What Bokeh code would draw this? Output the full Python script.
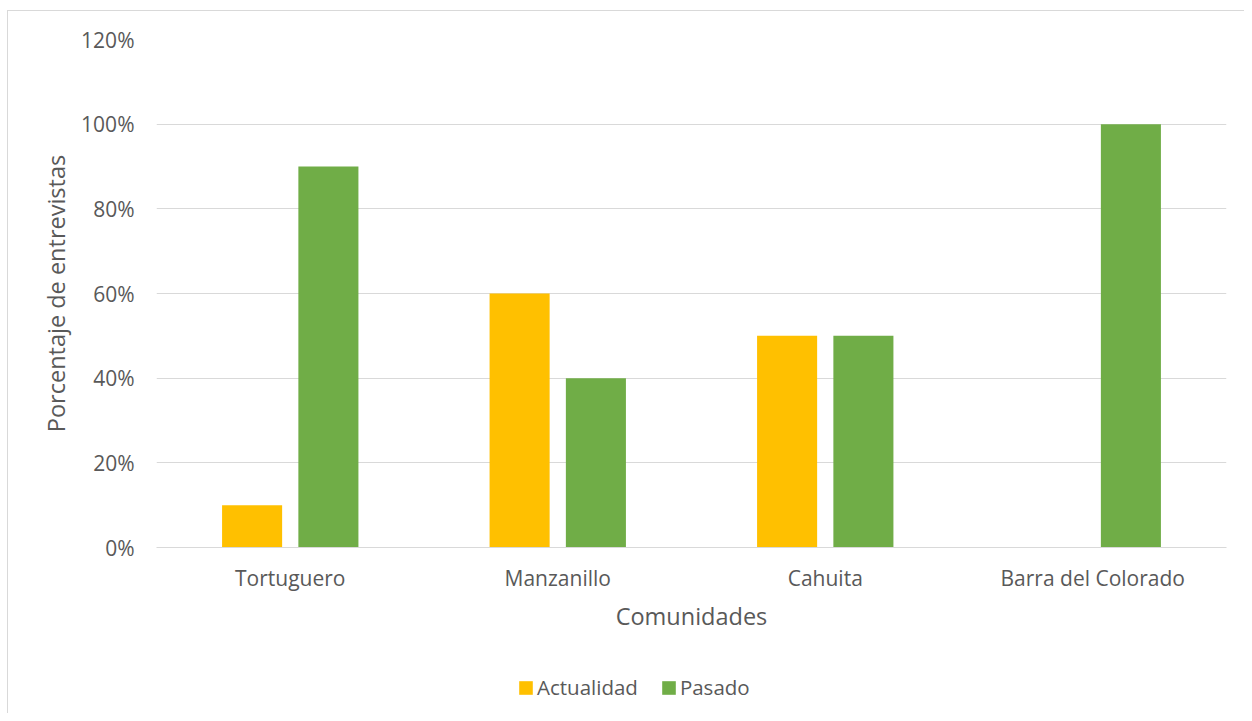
from bokeh.plotting import figure
from bokeh.layouts import column
from bokeh.models import ColumnDataSource, FactorRange, Range1d, Legend, LegendItem, NumeralTickFormatter, FixedTicker
from bokeh.transform import dodge
from bokeh.embed import file_html
from bokeh.resources import INLINE

communities = ["Tortuguero", "Manzanillo", "Cahuita", "Barra del Colorado"]
actualidad = [0.10, 0.60, 0.50, 0.0]
pasado = [0.90, 0.40, 0.50, 1.00]
y_ticks = [0, 0.2, 0.4, 0.6, 0.8, 1.0, 1.2]
series_names = ["Actualidad", "Pasado"]
series_fields = ["act", "pas"]
series_colors = ["#FFC000", "#70AD47"]
offsets = [-0.1426, 0.1426]

FONT = "Open Sans"
TXT = "#595959"
GRID = "#D9D9D9"

src = ColumnDataSource(dict(cat=communities, act=actualidad, pas=pasado))
xr = FactorRange(factors=communities, range_padding=0)

p = figure(x_range=xr, y_range=Range1d(0, 1.2),
           width=1244, height=650, output_backend="svg", toolbar_location=None,
           min_border_left=156, min_border_right=18, min_border_top=39, min_border_bottom=103)
p.outline_line_color = None
p.background_fill_color = "white"
p.border_fill_color = None

for f, c, o in zip(series_fields, series_colors, offsets):
    p.vbar(x=dodge("cat", o, range=xr), top=f, width=0.2245, source=src,
           fill_color=c, line_color=None)

p.xgrid.grid_line_color = None
p.ygrid.grid_line_color = GRID
p.ygrid.grid_line_width = 1
p.yaxis.ticker = FixedTicker(ticks=y_ticks)
p.yaxis.formatter = NumeralTickFormatter(format="0%")

for ax in (p.xaxis[0], p.yaxis[0]):
    ax.major_tick_line_color = None
    ax.minor_tick_line_color = None
    ax.major_label_text_font = FONT
    ax.major_label_text_color = TXT
    ax.major_label_text_font_size = "21px"
    ax.axis_label_text_font = FONT
    ax.axis_label_text_color = TXT
    ax.axis_label_text_font_size = "23.5px"
    ax.axis_label_text_font_style = "normal"

p.yaxis.axis_line_color = None
p.xaxis.axis_line_color = GRID
p.yaxis.axis_label = "Porcentaje de entrevistas"
p.xaxis.axis_label = "Comunidades"
p.yaxis.major_label_standoff = 16
p.yaxis.axis_label_standoff = 6
p.xaxis.major_label_standoff = 10
p.xaxis.axis_label_standoff = 5

# legend strip below the chart (shares the category range; its bars fall outside the strip's view)
p2 = figure(x_range=xr, y_range=Range1d(5, 6), width=1244, height=63,
            x_axis_type=None, y_axis_type=None, output_backend="svg", toolbar_location=None,
            min_border=0)
p2.outline_line_color = None
p2.grid.visible = False
p2.background_fill_color = None
p2.border_fill_color = None
items = []
for name, f, c, o in zip(series_names, series_fields, series_colors, offsets):
    r = p2.vbar(x=dodge("cat", o, range=xr), top=f, width=0.2245, source=src,
                fill_color=c, line_color=None)
    items.append(LegendItem(label=name, renderers=[r]))
legend = Legend(items=items, orientation="horizontal", location=(361, 12),
                label_text_font=FONT, label_text_color=TXT, label_text_font_size="20.5px",
                glyph_width=17, glyph_height=17, spacing=22, label_standoff=3,
                border_line_color=None, background_fill_alpha=0, margin=0, padding=0)
p2.add_layout(legend, "center")

layout = column(p, p2, spacing=0, styles={
    "background-color": "white",
    "background-image": "linear-gradient(#D9D9D9, #D9D9D9), linear-gradient(#D9D9D9, #D9D9D9)",
    "background-size": "1px 100%, 100% 1px",
    "background-position": "7px 10px, 7px 10px",
    "background-repeat": "no-repeat",
})

open("out.html", "w").write(file_html(layout, INLINE))
